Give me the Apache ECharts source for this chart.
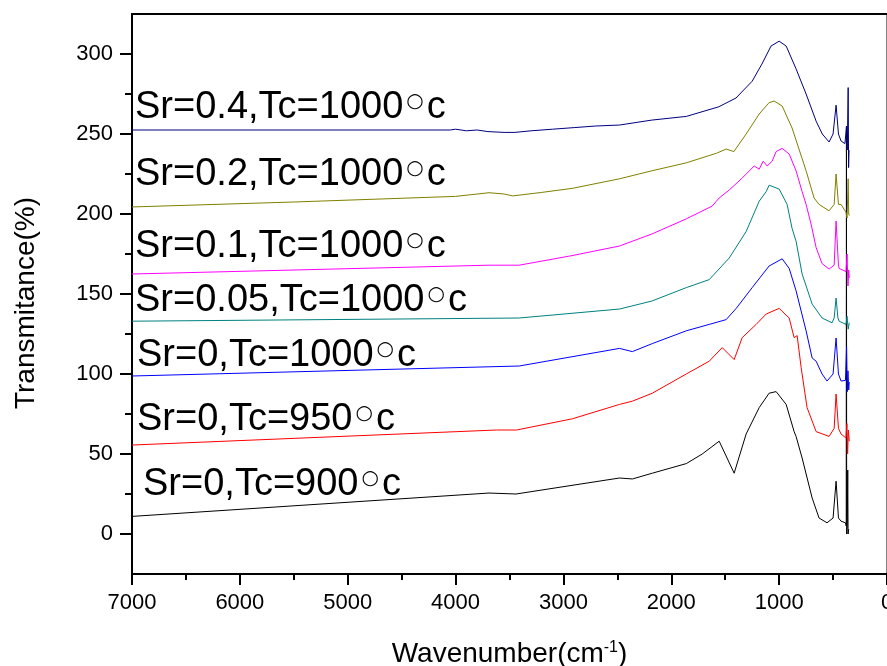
<!DOCTYPE html>
<html>
<head>
<meta charset="utf-8">
<script src="https://cdn.jsdelivr.net/npm/echarts@6/dist/echarts.min.js"></script>
<style>
html, body { margin: 0; padding: 0; background: #fff; }
#chart { width: 887px; height: 666px; }
</style>
</head>
<body>
<div id="chart"></div>
<script>
// spectra: [wavenumber (cm-1), transmittance (%)]
const sr0_900 = [[7000,11],[3690,25.6],[3440,25],[2480,35],[2360,34.4],[2176,38],[1861,44],[1713,50],[1556,58],[1417,38],[1306,62.5],[1185,79],[1093,88],[1028,89],[935,81],[861,64],[843,61],[787,47.5],[694,22.5],[630,10],[556,7],[500,10],[472,33],[450,10],[426,8],[385,7],[378,5],[376,255],[374,0],[368,6],[364,40],[361,0],[355,3]];
const sr0_950 = [[7000,55.6],[3620,65],[3435,65],[2917,72],[2480,81],[2361,83],[2176,88],[1861,100],[1648,108],[1528,116.5],[1417,109],[1343,122.7],[1213,131],[1120,137.5],[1000,141],[907,135],[861,122.7],[833,124],[796,104],[741,79],[657,64],[537,61],[490,66],[472,87.5],[450,66],[426,62.5],[380,60],[372,69],[365,50],[358,65],[350,58]];
const sr0_1000 = [[7000,98.75],[3410,105],[2480,116],[2361,114],[2176,119],[1861,127],[1648,131],[1491,134],[1398,141],[1250,154],[1093,167.5],[972,172],[907,166],[843,152],[750,127],[694,110],[657,108],[602,100],[556,95.6],[500,100],[472,122.5],[450,100],[426,95.6],[385,96],[375,117],[368,89],[362,102],[355,90],[350,95]];
const sr005_1000 = [[7000,133],[3410,135],[2480,140.6],[2180,145.6],[1860,154],[1648,159],[1463,172.5],[1306,189],[1185,208],[1120,214],[1093,218],[1000,215.6],[926,206],[880,191],[843,183],[787,162.5],[694,143.7],[602,135],[509,132],[490,135],[472,147.5],[455,135],[444,133],[380,131],[370,136],[360,128],[350,132]];
const sr01_1000 = [[7000,162.5],[3690,168],[3410,168],[2920,174],[2480,180],[2180,187.5],[1860,197],[1620,205],[1556,210],[1463,215],[1350,222],[1231,230],[1185,228],[1148,233],[1111,230],[1065,233],[1028,239],[972,241],[907,237.5],[843,227],[787,214],[750,206],[704,193.7],[657,179],[602,169],[537,165.6],[490,168],[472,195.6],[450,168],[444,166],[380,164],[370,175],[362,155],[355,165],[350,160]];
const sr02_1000 = [[7000,204.4],[5500,207.5],[4000,211],[3690,213.3],[3550,212.5],[3470,211.3],[3200,213.5],[2920,216],[2480,222],[2180,227],[1860,232],[1580,238],[1490,240.6],[1420,239],[1306,250],[1185,262.5],[1093,269.6],[1046,270.6],[972,267.5],[880,253.7],[750,227],[676,210],[630,206],[537,202],[490,206],[472,225],[450,206],[426,206],[380,201],[370,197.5],[360,222],[355,200],[350,199]];
const sr04_1000 = [[7000,252.5],[4050,252.5],[4000,253],[3900,252],[3800,252.5],[3700,251.5],[3550,251],[3450,251],[3300,252],[3100,253],[2900,254],[2700,255],[2480,255.6],[2180,258.7],[1860,261],[1560,267],[1400,272.5],[1250,283],[1160,293.7],[1075,305],[1000,308],[935,305],[845,291],[750,275],[657,258],[600,250],[537,245],[500,250],[472,268],[450,250],[426,245.6],[390,244],[375,255],[368,240],[360,279],[356,229],[352,240]];

const sr = ['0', '0', '0', '0.05', '0.1', '0.2', '0.4'];
const tc = ['900', '950', '1000', '1000', '1000', '1000', '1000'];
const yMajor = [0, 50, 100, 150, 200, 250, 300];
const yMinor = [25, 75, 125, 175, 225, 275];

const FONT = '"Liberation Sans", Arial, sans-serif';
const spectra = [sr0_900, sr0_950, sr0_1000, sr005_1000, sr01_1000, sr02_1000, sr04_1000];
const colors = ['#000000', '#ff0000', '#0000ff', '#008080', '#ff00ff', '#808000', '#000080'];
// label anchor (left, middle of caps) in pixels
const labelPos = [[143, 485], [137, 420], [137, 356], [135, 301], [135, 247], [135, 175], [135, 108]];

const chart = echarts.init(document.getElementById('chart'));

let option = {
  animation: false,
  backgroundColor: '#fff',
  grid: {
    left: 132, right: 0, top: 14, bottom: 92,
    containLabel: false, outerBoundsMode: 'none',
    show: true, borderColor: '#000', borderWidth: 1
  },
  xAxis: [
    {
      type: 'value', min: 0, max: 7000, interval: 1000, inverse: true,
      position: 'bottom',
      axisLine: { onZero: false, lineStyle: { color: '#000', width: 2 } },
      axisTick: { length: 11, lineStyle: { color: '#000', width: 2 } },
      minorTick: { show: true, splitNumber: 2, length: 6, lineStyle: { color: '#000', width: 2 } },
      splitLine: { show: false },
      axisLabel: { fontSize: 22, color: '#000', fontFamily: FONT, margin: 18, formatter: v => String(v) },
      name: '{a|Wavenumber(cm}{s|-1}{a|)}',
      nameLocation: 'middle', nameGap: 66,
      nameTextStyle: {
        rich: {
          a: { fontSize: 28, color: '#000', fontFamily: FONT },
          s: { fontSize: 16, color: '#000', fontFamily: FONT, padding: [0, 0, 13, 0] }
        }
      }
    },
    {
      type: 'value', min: 0, max: 7000, inverse: true, position: 'top',
      axisLine: { onZero: false, lineStyle: { color: '#000', width: 2 } },
      axisTick: { show: false }, axisLabel: { show: false }, splitLine: { show: false }
    }
  ],
  yAxis: [
    {
      type: 'value', min: -25, max: 325, position: 'left',
      axisLine: { show: true, onZero: false, lineStyle: { color: '#000', width: 2 } },
      axisTick: { customValues: yMajor, length: 12, lineStyle: { color: '#000', width: 2 } },
      axisLabel: { customValues: yMajor, fontSize: 22, color: '#000', fontFamily: FONT, margin: 19 },
      splitLine: { show: false },
      name: 'Transmitance(%)', nameLocation: 'middle', nameGap: 92,
      nameTextStyle: { fontSize: 28, color: '#000', fontFamily: FONT, padding: [0, 18, 0, 0] }
    },
    {
      // minor ticks: second axis sits on the right, shifted back to just left of the left edge
      type: 'value', min: -25, max: 325, position: 'right', offset: -762,
      axisLine: { show: false, onZero: false },
      axisTick: { inside: false, customValues: yMinor, length: 7, lineStyle: { color: '#000', width: 2 } },
      axisLabel: { show: false }, splitLine: { show: false }
    }
  ],
  series: spectra.map((d, i) => ({
    type: 'line',
    name: 'Sr=' + sr[i] + ',Tc=' + tc[i],
    data: d,
    showSymbol: false,
    xAxisIndex: 0,
    yAxisIndex: 0,
    lineStyle: { color: colors[i], width: 1 },
    itemStyle: { color: colors[i] }
  })),
  graphic: sr.map((s, i) => ({
    type: 'text',
    x: labelPos[i][0],
    y: labelPos[i][1],
    style: {
      text: '{t|Sr=' + s + ',Tc=' + tc[i] + '}{r|\u25CB}{t|c}',
      textVerticalAlign: 'middle',
      rich: {
        t: { fontSize: 38, fontFamily: FONT, fill: '#000' },
        r: { fontSize: 20, fontFamily: '"DejaVu Sans"', fill: '#000', padding: [0, 3, 12, 3] }
      }
    }
  }))
};

chart.setOption(option);
</script>
</body>
</html>
